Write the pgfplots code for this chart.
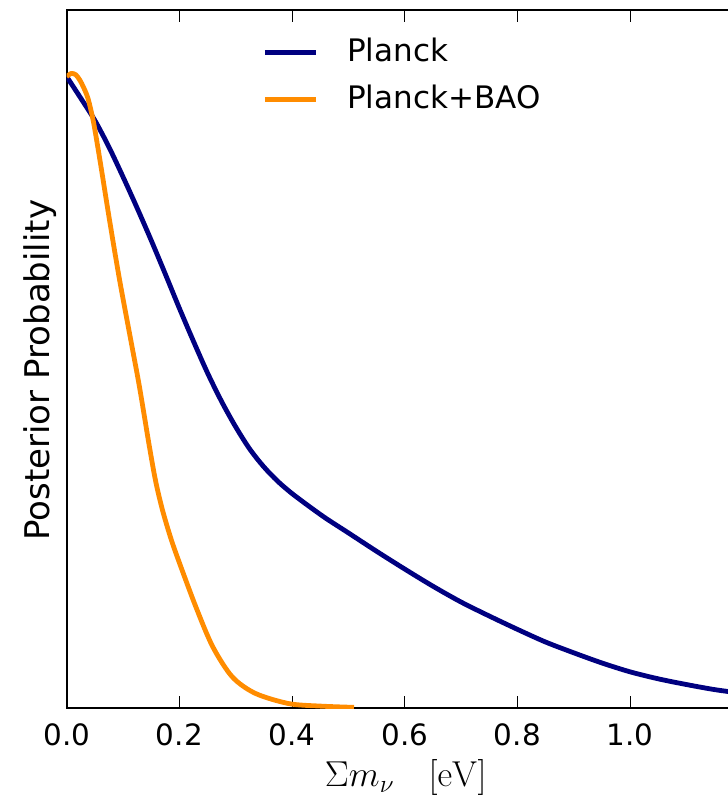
\RequirePackage{fix-cm}
\documentclass[border=0pt]{standalone}
\usepackage[no-math]{fontspec}
\setmainfont{DejaVu Sans}
\usepackage{pgfplots}
\usepackage{pgfplotstable}
\pgfplotsset{compat=1.18}
\definecolor{planckblue}{RGB}{0,0,128}
\definecolor{baoorange}{RGB}{255,140,0}

\pgfplotstableread{
x y
0.000 0.995
0.025 0.961
0.050 0.926
0.075 0.884
0.100 0.837
0.125 0.788
0.150 0.737
0.175 0.684
0.200 0.630
0.225 0.578
0.250 0.528
0.275 0.483
0.300 0.443
0.325 0.408
0.350 0.380
0.375 0.357
0.400 0.338
0.430 0.318
0.460 0.299
0.500 0.276
0.550 0.247
0.600 0.219
0.650 0.192
0.700 0.167
0.750 0.145
0.800 0.124
0.850 0.104
0.900 0.087
0.950 0.071
1.000 0.057
1.050 0.046
1.100 0.037
1.150 0.029
1.200 0.023
}\planck

\pgfplotstableread{
x y
0.000 0.995
0.008 1.000
0.016 0.998
0.023 0.990
0.030 0.978
0.038 0.960
0.047 0.926
0.055 0.885
0.062 0.847
0.076 0.769
0.094 0.674
0.115 0.574
0.129 0.507
0.147 0.411
0.158 0.357
0.170 0.312
0.185 0.267
0.200 0.229
0.229 0.160
0.259 0.097
0.294 0.049
0.335 0.023
0.394 0.007
0.450 0.003
0.510 0.001
}\planckbao

\begin{document}
\begin{tikzpicture}
\begin{axis}[
  at={(0,0)}, anchor=south west,
  scale only axis, width=338pt, height=349pt,
  xmin=0, xmax=1.2, ymin=0, ymax=1.1,
  xtick={0,0.2,0.4,0.6,0.8,1.0},
  ytick=\empty,
  tick align=inside,
  major tick length=6pt,
  tick style={line width=0.5pt, black},
  axis line style={line width=1pt},
  /pgf/number format/assume math mode=true,
  /pgf/number format/.cd, fixed, fixed zerofill, precision=1,
  /pgfplots/.cd,
  xticklabel style={font=\fontsize{14.7}{16}\selectfont, inner sep=0pt, yshift=-7.5pt},
  xlabel={$\Sigma m_{\nu}\hspace{17pt}\big[\mathrm{eV}\big]$},
  xlabel style={at={(axis description cs:0.5016,0)}, anchor=base, yshift=-39.35pt, font=\fontsize{18}{21}\selectfont},
  ylabel={Posterior Probability},
  ylabel style={at={(axis description cs:-0.0247,0.484)}, anchor=base, font=\fontsize{17}{20}\selectfont},
  legend cell align=left,
  legend image code/.code={\draw[#1] (0pt,0pt) -- (25.5pt,0pt);},
  legend style={draw=none, fill=none, inner sep=0pt, at={(0.2890,0.9611)}, anchor=north west,
    font=\fontsize{15.5}{18}\selectfont, row sep=8.65pt, column sep=14.5pt,
    nodes={inner sep=0pt, text height=12pt, text depth=3pt}},
]
\addplot[planckblue, line width=2.4pt, smooth, tension=0.5] table {\planck};
\addlegendentry{Planck}
\addplot[baoorange, line width=2.4pt, smooth, tension=0.5] table {\planckbao};
\addlegendentry{Planck+BAO}
\end{axis}
\pgfresetboundingbox
\useasboundingbox (-33.35pt,-51.5pt) rectangle (330.65pt,354pt);
\end{tikzpicture}
\end{document}
